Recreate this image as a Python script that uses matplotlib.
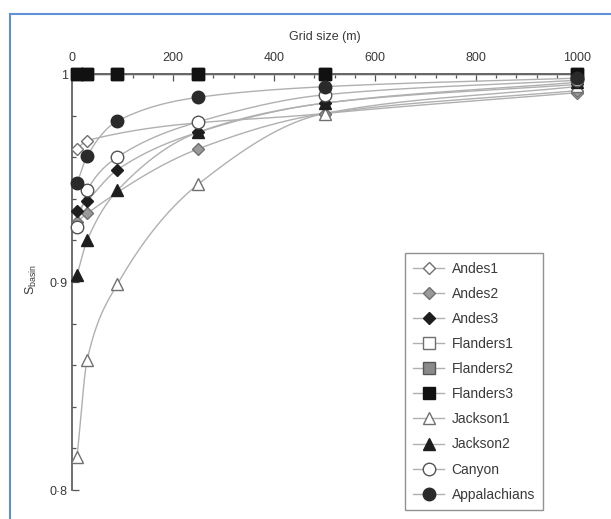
import numpy as np
import matplotlib
matplotlib.use('Agg')
import matplotlib.pyplot as plt
from matplotlib.patches import Rectangle
from matplotlib.ticker import MultipleLocator, FixedLocator, FuncFormatter

plt.rcParams['font.family'] = ['Liberation Sans', 'DejaVu Sans']
plt.rcParams['mathtext.fontset'] = 'custom'
plt.rcParams['mathtext.rm'] = 'Liberation Sans'

# grid sizes (m) and S_basin values
grid_all = [10, 30, 90, 250, 500, 1000]
grid_andes1 = [10, 30, 500, 1000]
grid_andes2 = [10, 30, 250, 500, 1000]

andes1 = [0.964, 0.968, 0.981, 0.991]
andes2 = [0.929, 0.933, 0.964, 0.981, 0.992]
andes3 = [0.934, 0.939, 0.954, 0.972, 0.986, 0.995]
flanders1 = [1.0, 1.0, 1.0, 1.0, 1.0, 1.0]
flanders2 = [1.0, 1.0, 1.0, 1.0, 1.0, 1.0]
flanders3 = [1.0, 1.0, 1.0, 1.0, 1.0, 1.0]
jackson1 = [0.816, 0.8625, 0.899, 0.947, 0.981, 0.994]
jackson2 = [0.9034, 0.920, 0.944, 0.972, 0.986, 0.996]
canyon = [0.9266, 0.944, 0.960, 0.977, 0.990, 0.997]
appalachians = [0.9474, 0.9606, 0.9774, 0.9888, 0.9939, 0.998]


def smooth(x, y, n=40):
    # monotone cubic through the points, only for drawing the curve
    x = np.asarray(x, float)
    y = np.asarray(y, float)
    h = np.diff(x)
    d = np.diff(y) / h
    m = np.zeros_like(y)
    m[0] = d[0]
    m[-1] = d[-1]
    for k in range(1, len(x) - 1):
        if d[k - 1] * d[k] > 0:
            w1 = 2 * h[k] + h[k - 1]
            w2 = h[k] + 2 * h[k - 1]
            m[k] = (w1 + w2) / (w1 / d[k - 1] + w2 / d[k])
    xs, ys = [], []
    for k in range(len(x) - 1):
        t = np.linspace(0, 1, n)
        h00 = 2 * t**3 - 3 * t**2 + 1
        h10 = t**3 - 2 * t**2 + t
        h01 = -2 * t**3 + 3 * t**2
        h11 = t**3 - t**2
        xs.append(x[k] + t * h[k])
        ys.append(h00 * y[k] + h10 * h[k] * m[k] + h01 * y[k + 1] + h11 * h[k] * m[k + 1])
    return np.concatenate(xs), np.concatenate(ys)


series = [
    ('Andes1', grid_andes1, andes1, 'D', 'white', '#707070', 6.5),
    ('Andes2', grid_andes2, andes2, 'D', '#9a9a9a', '#707070', 6.5),
    ('Andes3', grid_all, andes3, 'D', '#1e1e1e', '#1e1e1e', 6.5),
    ('Flanders1', grid_all, flanders1, 's', 'white', '#707070', 8.5),
    ('Flanders2', grid_all, flanders2, 's', '#8a8a8a', '#555555', 8.5),
    ('Flanders3', grid_all, flanders3, 's', '#111111', '#111111', 8.5),
    ('Jackson1', grid_all, jackson1, '^', 'white', '#707070', 8.5),
    ('Jackson2', grid_all, jackson2, '^', '#1e1e1e', '#1e1e1e', 8.5),
    ('Canyon', grid_all, canyon, 'o', 'white', '#555555', 9),
    ('Appalachians', grid_all, appalachians, 'o', '#2a2a2a', '#2a2a2a', 9),
]

fig = plt.figure(figsize=(6.11, 5.19), dpi=100)
ax = fig.add_axes([72 / 611, 1 - 490 / 519, 505 / 611, 416 / 519])

line_col = '#b0b0b0'
text_col = '#3a3a3a'
axis_col = '#555555'

for name, gx, gy, mk, fc, ec, ms in series:
    sx, sy = smooth(gx, gy)
    ax.plot(sx, sy, color=line_col, lw=1.0, zorder=2, clip_on=False)
    ax.plot(gx, gy, linestyle='none', marker=mk, markersize=ms,
            markerfacecolor=fc, markeredgecolor=ec, markeredgewidth=1.0,
            zorder=3, clip_on=False)
    # legend handle
    ax.plot([], [], color=line_col, lw=1.0, marker=mk, markersize=ms,
            markerfacecolor=fc, markeredgecolor=ec, markeredgewidth=1.0,
            label=name)

ax.set_xlim(0, 1000)
ax.set_ylim(0.8, 1.0)

ax.xaxis.tick_top()
ax.xaxis.set_label_position('top')
ax.set_xlabel('Grid size (m)', fontsize=9, color=text_col, labelpad=9)
ax.xaxis.set_major_locator(MultipleLocator(200))
ax.xaxis.set_minor_locator(MultipleLocator(40))
ax.yaxis.set_major_locator(FixedLocator([0.8, 0.9, 1.0]))
ax.yaxis.set_minor_locator(MultipleLocator(0.02))
ax.yaxis.set_major_formatter(FuncFormatter(
    lambda v, p: '1' if abs(v - 1) < 1e-9 else ('%.1f' % v).replace('.', '\u00b7')))

ax.tick_params(axis='both', which='both', direction='in', colors=axis_col,
               labelcolor=text_col, labelsize=9, width=0.9)
ax.tick_params(axis='both', which='major', length=5)
ax.tick_params(axis='both', which='minor', length=3)
ax.tick_params(axis='x', pad=7)
ax.tick_params(axis='y', pad=3)

ax.spines['bottom'].set_visible(False)
ax.spines['right'].set_visible(False)
for s in ('top', 'left'):
    ax.spines[s].set_color(axis_col)
    ax.spines[s].set_linewidth(1.2)

fig.text(31 / 611, 1 - 280 / 519, r'S$_{\mathrm{basin}}$', rotation=90,
         ha='center', va='center', fontsize=9, color=text_col)

leg = ax.legend(loc='lower left', bbox_to_anchor=((405 - 72) / 505, (490 - 510) / 416),
                fontsize=10, frameon=True, fancybox=False, handlelength=2.2,
                handletextpad=0.55, labelspacing=0.8, borderpad=0.6,
                borderaxespad=0)
leg.get_frame().set_edgecolor('#777777')
leg.get_frame().set_linewidth(1.0)
for t in leg.get_texts():
    t.set_color(text_col)

fig.patches.append(Rectangle((10 / 611, -0.1), 1.2, (519 - 14) / 519 + 0.1,
                             transform=fig.transFigure, fill=False,
                             edgecolor='#5f8fd4', lw=1.5))

fig.savefig('out.png', dpi=100)
